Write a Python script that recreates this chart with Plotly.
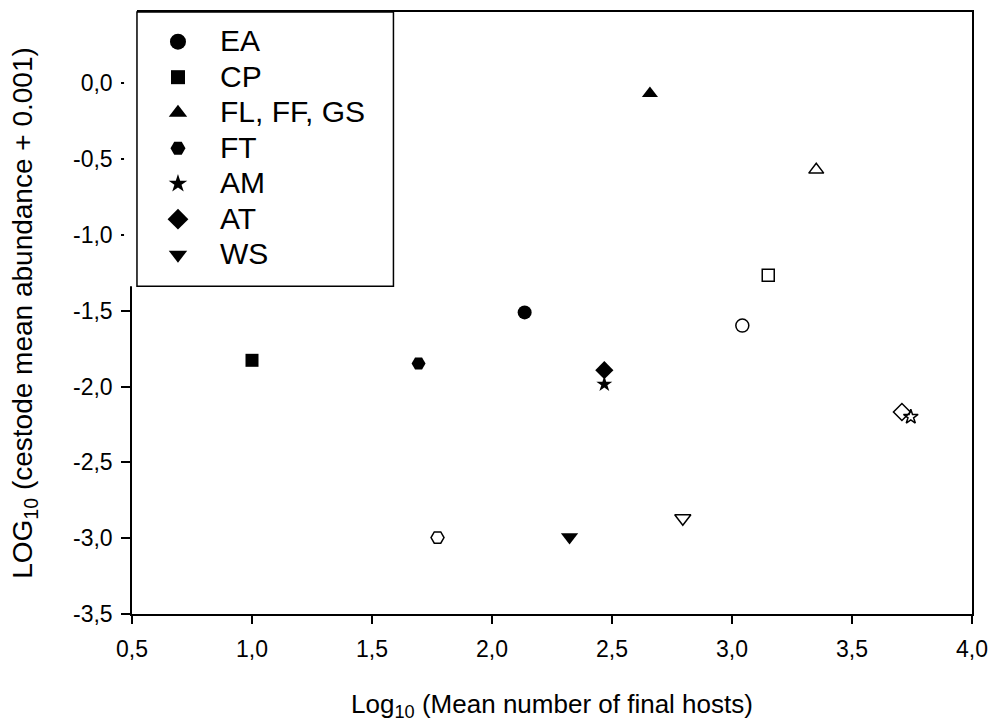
import plotly.graph_objects as go

categories = ["EA", "CP", "FL, FF, GS", "FT", "AM", "AT", "WS"]
symbols = ["circle", "square", "triangle-up", "hexagon2", "star", "diamond", "triangle-down"]
plot_sizes = [14, 13, 14, 14, 12, 14, 15]
legend_sizes = [16, 14, 16, 15, 14, 16, 16]

filled_x = [2.136, 1.00, 2.658, 1.694, 2.468, 2.468, 2.323]
filled_y = [-1.511, -1.827, -0.067, -1.848, -1.985, -1.892, -2.992]
open_x = [3.043, 3.151, 3.351, 1.773, 3.745, 3.708, 2.795]
open_y = [-1.598, -1.266, -0.571, -2.996, -2.20, -2.168, -2.868]

x_ticks = [0.5, 1.0, 1.5, 2.0, 2.5, 3.0, 3.5, 4.0]
x_labels = ["0,5", "1,0", "1,5", "2,0", "2,5", "3,0", "3,5", "4,0"]
y_ticks = [0.0, -0.5, -1.0, -1.5, -2.0, -2.5, -3.0, -3.5]
y_labels = ["0,0", "-0,5", "-1,0", "-1,5", "-2,0", "-2,5", "-3,0", "-3,5"]

FONT = "Liberation Sans, Arial, sans-serif"

W, H = 998, 724
# plot area in page pixels (body margin is removed by the post script)
SL, SR, ST, SB = 132, 977, 10, 618
L, R, T, B = SL, W - SR, ST, H - SB
pw = W - L - R
ph = H - T - B


def sx(p):
    return (p - L) / pw


def sy(p):
    return (H - B - p) / ph


fig = go.Figure()

# legend-only entries
for i, cat in enumerate(categories):
    fig.add_trace(go.Scatter(
        x=[None], y=[None], mode="markers",
        name='<span style="font-size:30px">' + cat + "</span>",
        legendgroup=cat,
        marker=dict(symbol=symbols[i], size=legend_sizes[i], color="black",
                    line=dict(width=0, color="black")),
    ))
# filled points
for i, cat in enumerate(categories):
    fig.add_trace(go.Scatter(
        x=[filled_x[i]], y=[filled_y[i]], mode="markers", name=cat,
        legendgroup=cat, showlegend=False,
        marker=dict(symbol=symbols[i], size=plot_sizes[i], color="black",
                    line=dict(width=0, color="black")),
    ))
# open points
for i, cat in enumerate(categories):
    fig.add_trace(go.Scatter(
        x=[open_x[i]], y=[open_y[i]], mode="markers", name=cat + " (open)",
        legendgroup=cat, showlegend=False,
        marker=dict(symbol=symbols[i] + "-open", size=plot_sizes[i] - 1, color="black",
                    line=dict(width=1.5, color="black")),
    ))

# white strip hiding the axis/ticks behind the legend box
fig.add_shape(type="rect", xref="paper", yref="paper",
              x0=sx(124), x1=sx(137), y0=sy(287), y1=sy(ST - 2),
              fillcolor="white", line=dict(width=0), layer="above")
# legend box
fig.add_shape(type="rect", xref="paper", yref="paper",
              x0=sx(137), x1=sx(395), y0=sy(287), y1=sy(10),
              fillcolor="white", line=dict(width=1.5, color="black"), layer="above")

fig.update_layout(
    width=W, height=H,
    margin=dict(l=L, r=R, t=T, b=B),
    paper_bgcolor="white", plot_bgcolor="white",
    font=dict(family=FONT, color="black"),
    showlegend=True,
    legend=dict(x=sx(136), y=sy(17), xanchor="left", yanchor="top",
                bgcolor="rgba(0,0,0,0)", borderwidth=0,
                font=dict(size=25, family=FONT, color="black"),
                itemwidth=74, tracegroupgap=0),
    xaxis=dict(range=[0.5, 4.0], tickvals=x_ticks, ticktext=x_labels,
               showgrid=False, zeroline=False, showline=True, linecolor="black",
               linewidth=1.5, mirror=True, ticks="outside", ticklen=8,
               tickwidth=1.5, tickcolor="black", tickfont=dict(size=23),
               ticklabelstandoff=6, ticklabeloverflow="allow",
               title=dict(text="Log<sub>10</sub> (Mean number of final hosts)",
                          font=dict(size=26), standoff=33)),
    yaxis=dict(range=[-3.5, 0.47], tickvals=y_ticks, ticktext=y_labels,
               showgrid=False, zeroline=False, showline=True, linecolor="black",
               linewidth=1.5, mirror=True, ticks="outside", ticklen=9,
               tickwidth=1.5, tickcolor="black", tickfont=dict(size=23),
               ticklabelstandoff=4,
               title=dict(text="LOG<sub>10</sub> (cestode mean abundance + 0.001)",
                          font=dict(size=28), standoff=32)),
)

fig.write_html("out.html",
               config={"displayModeBar": False},
               post_script="document.body.style.margin='0px';"
                           "document.body.style.overflow='hidden';")
